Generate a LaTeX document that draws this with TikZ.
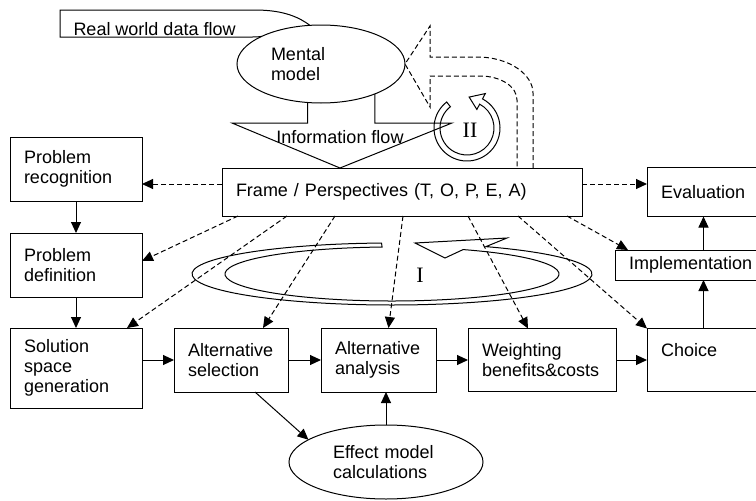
\documentclass[tikz,border=0pt]{standalone}
\usepackage{fontspec}
\setmainfont{Liberation Sans}
\newfontfamily\romanfont{Liberation Serif}
\usepackage{tikz}
\usetikzlibrary{shapes.geometric,arrows.meta,positioning}

\begin{document}
\begin{tikzpicture}[x=1pt, y=1pt, line width=1pt, >={Triangle[length=11pt,width=10pt]},
  font=\fontsize{18}{20}\selectfont,
  box/.style 2 args={draw, rectangle, inner xsep=14pt, inner ysep=0pt, align=left, text width=#1, minimum height=#2, outer sep=0pt},
  bubble/.style={draw, ellipse, inner sep=0pt, align=left, outer sep=0pt},
  flow/.style={->},
  dashflow/.style={->, dash pattern=on 5pt off 3pt},
  dashloop/.style={dash pattern=on 5pt off 3pt},
  roman/.style={font=\romanfont\fontsize{22}{24}\selectfont}]
  \useasboundingbox (0,0) rectangle (756,-501);

  % decision steps
  \node [box={104pt}{64pt}, anchor=north west] (recog) at (10,-137) {Problem\\recognition};
  \node [box={104pt}{64pt}, below=32pt of recog] (defin) {Problem\\definition};
  \node [box={104pt}{80pt}, below=31pt of defin] (solspace) {Solution\\space\\generation};
  \node [box={86pt}{64pt}, right=32pt of solspace.north east, anchor=north west] (altsel) {Alternative\\selection};
  \node [box={87pt}{64pt}, right=33pt of altsel] (altana) {Alternative\\analysis};
  \node [box={120pt}{63pt}, right=32pt of altana] (weight) {Weighting\\benefits\&costs};
  \node [box={95pt}{63pt}, right=31pt of weight] (choice) {Choice\\\mbox{}};
  \node [box={332pt}{48pt}, anchor=north west] (frame) at (222,-168) {Frame / Perspectives (T, O, P, E, A)};
  \node [box={95pt}{49pt}, right=65pt of frame] (evalu) {Evaluation};
  \node [box={127pt}{30pt}, anchor=north west] (implem) at (615,-250) {Implementation};

  % models
  \node [bubble, minimum width=168pt, minimum height=78pt, text width=100pt] (mental) at (321,-64) {Mental\\model};
  \node [bubble, minimum width=194pt, minimum height=74pt, text width=106pt] (effect) at (386,-462) {Effect model\\calculations};
  \node [anchor=west, inner sep=0pt] (realworld) at (73,-29) {Real world data flow};
  \node (infoflow) at (340,-137) {Information flow};
  \node [roman] (loopone) at (420,-275) {I};
  \node [roman] (looptwo) at (470,-130) {II};

  % flow shapes
  \draw (mental.106) .. controls (300,-18) and (285,-10) .. (255,-10) -- (60,-10) -- (60,-37) -- (250,-37) .. controls (257,-37) .. (mental.155);
  \draw (mental.251) |- (232,-123) -- ([xshift=-62pt]frame.north) -- (452,-123) -| (mental.331);
  \draw [dashloop] ([xshift=131pt]frame.north) -- (533,-93) .. controls (533,-75) and (510,-57) .. (477,-57) -- (430,-57) -- (430,-26)
    -- (mental.east) -- (430,-107) -- (430,-76) -- (480,-76) .. controls (500,-76) and (517,-86) .. (517,-100) -- ([xshift=115pt]frame.north);

  % loop II
  \coordinate (ctwo) at (467,-128);
  \draw (ctwo) ++(128:33) arc[start angle=128, end angle=422, radius=33]
    -- ([shift={(62:39)}]ctwo) -- ([shift={(86:31)}]ctwo) -- ([shift={(62:21)}]ctwo) -- ([shift={(62:27)}]ctwo)
    arc[start angle=422, end angle=128, radius=27] -- cycle;

  % loop I
  \coordinate (cone) at (392,-274);
  \draw (cone) ++(93:200 and 31) arc[start angle=93, end angle=422, x radius=200, y radius=31]
    -- (507,-238) -- (415,-243) -- (445,-258) -- ([shift={(64.8:167 and 27)}]cone)
    arc[start angle=64.8, end angle=-266.6, x radius=167, y radius=27] -- cycle;

  % perspectives
  \draw [dashflow] ([yshift=8pt]frame.west) -- ([yshift=8pt]frame.west -| recog.east);
  \draw [dashflow] ([yshift=8pt]frame.east) -- ([yshift=8pt]frame.east -| evalu.west);
  \draw [dashflow] ([xshift=16pt]frame.south west) -- ([yshift=4pt]defin.east);
  \draw [dashflow] ([xshift=65pt]frame.south west) -- ([xshift=-15pt]solspace.north east);
  \draw [dashflow] ([xshift=113pt]frame.south west) -- ([xshift=-25pt]altsel.north east);
  \draw [dashflow] ([xshift=181pt]frame.south west) -- ([xshift=10pt]altana.north);
  \draw [dashflow] ([xshift=246pt]frame.south west) -- ([xshift=-14pt]weight.north);
  \draw [dashflow] ([xshift=296pt]frame.south west) -- (choice.north west);
  \draw [dashflow] ([xshift=345pt]frame.south west) -- ([xshift=13pt]implem.north west);

  % process
  \draw [flow] (recog) -- (defin);
  \draw [flow] (defin) -- (solspace);
  \draw [flow] (solspace.east |- altsel.west) -- (altsel.west);
  \draw [flow] (altsel) -- (altana);
  \draw [flow] (altana) -- (weight);
  \draw [flow] (weight) -- (choice);
  \draw [flow] ([xshift=-5pt]choice.north) -- ([xshift=-5pt]choice.north |- implem.south);
  \draw [flow] ([xshift=-5pt]choice.north |- implem.north) -- ([xshift=-5pt]evalu.south);
  \draw [flow] ([xshift=24pt]altsel.south) -- (effect.164);
  \draw [flow] (effect.north) -- (effect.north |- altana.south);
\end{tikzpicture}
\end{document}
